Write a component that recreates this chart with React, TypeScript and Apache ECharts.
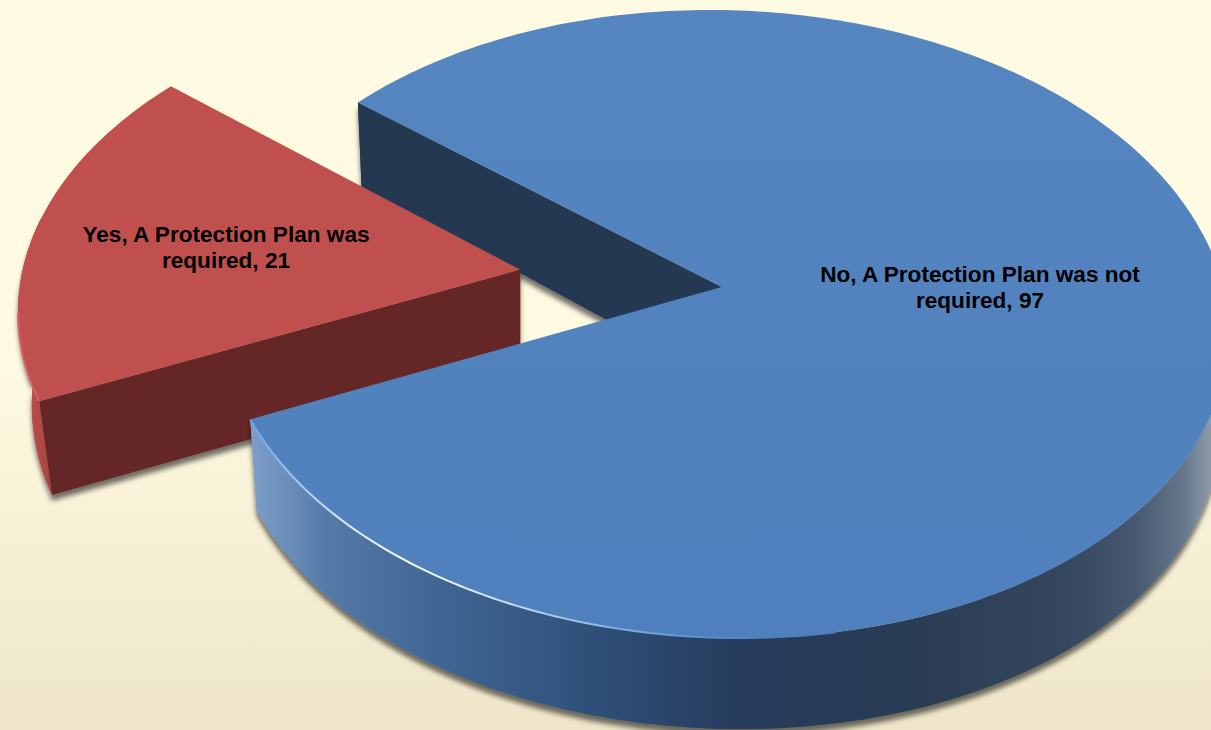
import React, { useEffect, useRef } from "react";
import * as echarts from "echarts";

// Survey answers shown as two wedges of a perspective pie.
const sliceNames = [
  "Yes, A Protection Plan was\nrequired",
  "No, A Protection Plan was not\nrequired",
];
const sliceValues = [21, 97];

const WIDTH = 1211;
const HEIGHT = 730;

// Outline of the disc on screen: a sheared ellipse with the pie's hub pushed back.
const CX = 725;
const CY = 324;
const RX = 503;
const RY = 314;
const SHEAR = 0.048;
const HUB_X = -0.003;
const HUB_Y = -0.118;
const START_ANGLE = 245.9;
const EXPLODE = [0.409, 0];
const RADIUS = [1.008, 1];
const HUB_DEPTH = [94, 95];
const LABEL_AT = [
  [226, 247],
  [980, 287],
];
// Only the near part of the rim shows its side wall.
const NEAR_FROM = 80;
const NEAR_TO = 280;

const dir = (deg: number) => {
  const a = (deg * Math.PI) / 180;
  return [Math.sin(a), -Math.cos(a)];
};

// Disc coordinates (unit circle) to screen pixels through a projective map.
const project = (X: number, Y: number) => {
  const d1 = 1 + HUB_X * X;
  const X1 = (X + HUB_X) / d1;
  const Y1 = (Y * Math.sqrt(1 - HUB_X * HUB_X)) / d1;
  const d2 = 1 + HUB_Y * Y1;
  const q = (Y1 + HUB_Y) / d2;
  const p = (X1 * Math.sqrt(1 - HUB_Y * HUB_Y)) / d2;
  return [CX + RX * p + SHEAR * RY * q, CY + RY * q];
};

// The underside of a rim point: lower on screen, and pulled slightly inward.
const drop = (pt: number[]) => {
  const dx = pt[0] - CX;
  const depth = 83 + (pt[1] - 102) * 0.015 + 6 * (dx / 688) * (dx / 688);
  return [pt[0] - 2.75e-5 * dx * Math.abs(dx), pt[1] + depth];
};

const rimPoints = (from: number, to: number, off: number[], radius: number) => {
  const pts: number[][] = [];
  const n = Math.max(2, Math.ceil(Math.abs(to - from)));
  for (let i = 0; i <= n; i++) {
    const u = dir(from + ((to - from) * i) / n);
    pts.push(project(u[0] * radius + off[0], u[1] * radius + off[1]));
  }
  return pts;
};

const sideGradients = [
  new echarts.graphic.LinearGradient(
    18, 0, 66, 0,
    [
      { offset: 0, color: "#c4524f" },
      { offset: 0.5, color: "#b04845" },
      { offset: 1, color: "#943a38" },
    ],
    true,
  ),
  new echarts.graphic.LinearGradient(
    250, 0, 1211, 0,
    [
      { offset: 0, color: "#7f9fc9" },
      { offset: 0.08, color: "#557aa8" },
      { offset: 0.2, color: "#3f6592" },
      { offset: 0.36, color: "#2f4f78" },
      { offset: 0.52, color: "#263a5a" },
      { offset: 0.7, color: "#2a3d55" },
      { offset: 0.85, color: "#34475f" },
      { offset: 0.92, color: "#45586f" },
      { offset: 0.97, color: "#65768b" },
      { offset: 1, color: "#8d9aaa" },
    ],
    true,
  ),
];

const topFills = [
  "#c0504d",
  new echarts.graphic.LinearGradient(
    0, 0, 0, 640,
    [
      { offset: 0, color: "#5686c0" },
      { offset: 1, color: "#4f80bd" },
    ],
    true,
  ),
];
const flatSides = ["#652725", "#243851"];

const glints = [
  {
    from: 245.9,
    to: 262,
    stroke: "#d9605c",
  },
  {
    from: 170,
    to: 245.9,
    stroke: new echarts.graphic.LinearGradient(
      250, 0, 760, 0,
      [
        { offset: 0, color: "#6aa5ea" },
        { offset: 0.18, color: "#d6e8fb" },
        { offset: 0.32, color: "#ffffff" },
        { offset: 0.55, color: "#b6d3f2" },
        { offset: 0.85, color: "#5f97d8" },
        { offset: 1, color: "#4f80bd" },
      ],
      true,
    ),
  },
];

const shadow = {
  shadowBlur: 5,
  shadowColor: "rgba(0,0,0,0.55)",
  shadowOffsetX: 0,
  shadowOffsetY: 6,
};

const total = sliceValues.reduce((a, b) => a + b, 0);

const renderSlice = (params: any, api: any) => {
  const i = params.dataIndex;
  const value = api.value(0);
  let from = START_ANGLE;
  for (let k = 0; k < i; k++) from += (sliceValues[k] / total) * 360;
  const to = from + (value / total) * 360;
  const u = dir((from + to) / 2);
  const off = [u[0] * EXPLODE[i], u[1] * EXPLODE[i]];
  const r = RADIUS[i];
  const hub = project(off[0], off[1]);
  const rim = rimPoints(from, to, off, r);
  const isRed = i === 0;

  // The side wall follows the part of the sweep that lies on the near half of the disc.
  const lap = from >= 360 - NEAR_FROM ? 360 : 0;
  const nearFrom = Math.max(from, NEAR_FROM + lap);
  const nearTo = Math.min(to, NEAR_TO + lap);
  const nearRim = rimPoints(nearFrom, nearTo, off, r);
  const nearUnder = nearRim.map(drop).reverse();

  // The flat cut that faces the viewer runs from the hub to the first rim point.
  const cutEdge = rim[0];
  const cut = [hub, cutEdge, drop(cutEdge), [hub[0], hub[1] + HUB_DEPTH[i]]];
  const wall = [...nearRim, ...nearUnder];
  const glint = glints[i];
  const glintFrom = isRed ? glint.from : glint.from + 360;
  const glintTo = isRed ? glint.to : glint.to + 360;

  const children: any[] = [
    // Cast shadows go first, so that no wall of the wedge darkens its neighbour.
    {
      type: "polygon",
      z2: isRed ? 2 : 0,
      shape: { points: cut },
      style: { fill: flatSides[i], ...shadow },
    },
    {
      type: "polygon",
      z2: isRed ? 2 : 4,
      shape: { points: wall },
      style: { fill: sideGradients[i], ...shadow },
    },
    {
      type: "polygon",
      z2: isRed ? 3 : 1,
      shape: { points: cut },
      style: { fill: flatSides[i] },
    },
    {
      type: "polygon",
      z2: isRed ? 3 : 5,
      shape: { points: wall },
      style: { fill: sideGradients[i] },
    },
    {
      type: "polygon",
      z2: isRed ? 4 : 6,
      shape: { points: [hub, ...rim] },
      style: { fill: topFills[i] },
    },
    {
      type: "polyline",
      z2: isRed ? 4 : 7,
      shape: { points: rimPoints(glintFrom, glintTo, off, r) },
      style: { fill: "none", stroke: glint.stroke, lineWidth: 2 },
    },
    {
      type: "text",
      z2: 10,
      x: LABEL_AT[i][0],
      y: LABEL_AT[i][1],
      style: {
        text: `${sliceNames[i]}, ${value}`,
        fontFamily: "Liberation Sans",
        fontWeight: "bold",
        fontSize: 22.6,
        lineHeight: 26,
        fill: "#000000",
        align: "center",
        verticalAlign: "middle",
      },
    },
  ];
  return { type: "group", children };
};

export default function App() {
  const ref = useRef<HTMLDivElement>(null);
  useEffect(() => {
    document.body.style.margin = "0";
    document.body.style.overflow = "hidden";
    const chart = echarts.init(ref.current!, undefined, { renderer: "svg" });
    chart.setOption({
      animation: false,
      backgroundColor: new echarts.graphic.LinearGradient(0, 0, 0, 1, [
        { offset: 0, color: "#fffbe3" },
        { offset: 0.5, color: "#fef9e1" },
        { offset: 1, color: "#efe6c9" },
      ]),
      series: [
        {
          type: "custom",
          coordinateSystem: "none",
          renderItem: renderSlice,
          silent: true,
          data: sliceValues.map((v) => [v]),
        },
      ],
    });
    return () => chart.dispose();
  }, []);
  return <div ref={ref} style={{ width: WIDTH, height: HEIGHT }} />;
}
